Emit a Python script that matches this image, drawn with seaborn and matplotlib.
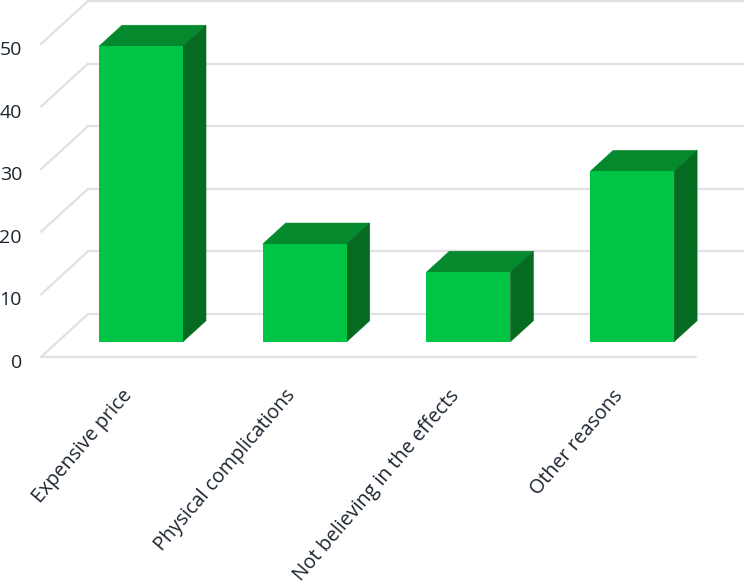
"""3D look bar chart of reasons, drawn on a seaborn barplot."""

import matplotlib

matplotlib.use("Agg")
import matplotlib.pyplot as plt
import seaborn as sns
from matplotlib.patches import Polygon

categories = [
    "Expensive price",
    "Physical complications",
    "Not believing in the effects",
    "Other reasons",
]
values = [47.2, 15.6, 11.1, 27.2]
y_ticks = [0, 10, 20, 30, 40, 50]

# pixel layout of the picture
WIDTH, HEIGHT = 744, 585
FIRST_BAR_PX = 141
BAR_STEP_PX = 163.7
BAR_WIDTH_PX = 84
BASE_PX = 341.7
UNIT_PX = 6.26

GRID = "#e0e0e5"
TEXT = "#1c2530"

sns.set_theme(style="white")
plt.rcParams["font.family"] = ["Open Sans", "DejaVu Sans"]

fig = plt.figure(figsize=(WIDTH / 100, HEIGHT / 100), dpi=100)
ax = fig.add_axes([0, 0, 1, 1])

sns.barplot(
    x=categories,
    y=values,
    color="#00c544",
    saturation=1,
    width=BAR_WIDTH_PX / BAR_STEP_PX,
    linewidth=0,
    ax=ax,
    zorder=4,
)

ax.set_xlim(-FIRST_BAR_PX / BAR_STEP_PX, (WIDTH - FIRST_BAR_PX) / BAR_STEP_PX)
ax.set_ylim((BASE_PX - HEIGHT) / UNIT_PX, BASE_PX / UNIT_PX)
ax.axis("off")


def dx(px):
    return px / BAR_STEP_PX


def dy(px):
    return px / UNIT_PX


def x_at(px):
    return (px - FIRST_BAR_PX) / BAR_STEP_PX


# back wall lines and the slanted side wall lines
for tick in y_ticks:
    back_y = tick + dy(BASE_PX - 314)
    front_y = tick + dy(BASE_PX - 357)
    ax.plot([x_at(88), x_at(WIDTH)], [back_y, back_y], color=GRID, lw=1.6, zorder=1)
    ax.plot([x_at(41), x_at(88)], [front_y, back_y], color=GRID, lw=1.6, zorder=1)
    if tick == 0:
        ax.plot([x_at(41), x_at(696)], [front_y, front_y], color=GRID, lw=1.6, zorder=1)
    ax.text(
        x_at(22),
        tick + dy(BASE_PX - 363),
        str(tick),
        ha="right",
        va="center",
        fontsize=14,
        color=TEXT,
    )

# top and side faces from the bars seaborn drew
depth_x, depth_y = dx(23), dy(21)
for bar in ax.patches[: len(values)]:
    x0 = bar.get_x()
    x1 = x0 + bar.get_width()
    top = bar.get_height()
    ax.add_patch(
        Polygon(
            [(x0, top), (x1, top), (x1 + depth_x, top + depth_y), (x0 + depth_x, top + depth_y)],
            facecolor="#048a2d",
            edgecolor="#048a2d",
            lw=0.4,
            zorder=3,
        )
    )
    ax.add_patch(
        Polygon(
            [(x1, 0), (x1 + depth_x, depth_y), (x1 + depth_x, top + depth_y), (x1, top)],
            facecolor="#056b20",
            edgecolor="#056b20",
            lw=0.4,
            zorder=3,
        )
    )

for pos, label in enumerate(categories):
    ax.text(
        pos - dx(20),
        dy(BASE_PX - 386),
        label,
        rotation=49.5,
        rotation_mode="anchor",
        ha="right",
        va="top",
        fontsize=14.2,
        color=TEXT,
    )

fig.savefig("out.png", dpi=100)
plt.close(fig)
